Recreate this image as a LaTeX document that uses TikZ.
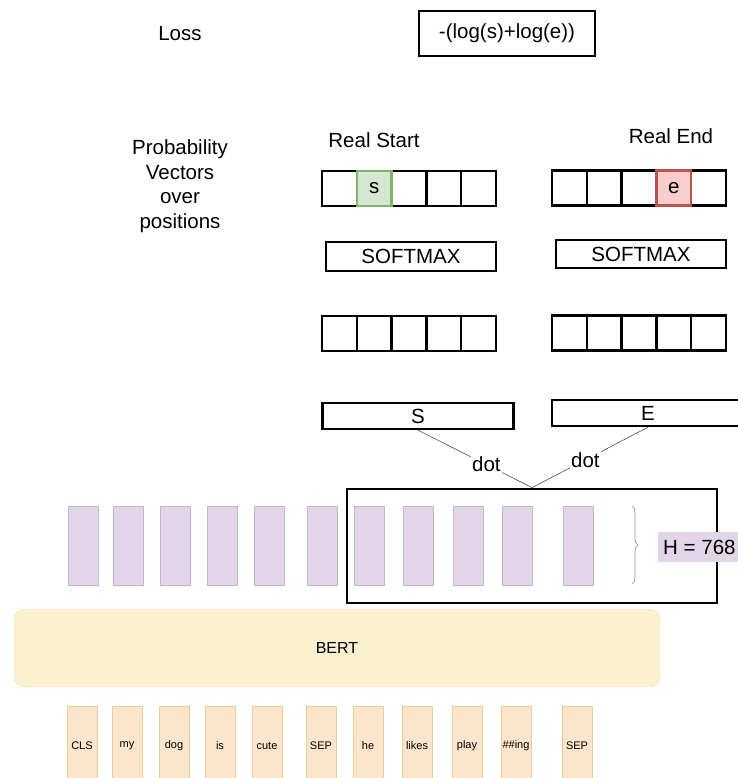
\documentclass[tikz,border=0pt]{standalone}
\usepackage{fontspec}
\setmainfont{Liberation Sans}
\usetikzlibrary{positioning, decorations.pathreplacing}

\definecolor{hidfill}{HTML}{E1D5E7}
\definecolor{hidline}{HTML}{C5B1D3}
\definecolor{tokfill}{HTML}{FBE6CD}
\definecolor{tokline}{HTML}{EDCD94}
\definecolor{bertfill}{HTML}{FBF0CF}
\definecolor{bertline}{HTML}{EEDDA8}
\definecolor{sfill}{HTML}{D5E8D4}
\definecolor{sline}{HTML}{82B366}
\definecolor{efill}{HTML}{F8CECC}
\definecolor{eline}{HTML}{B85450}

\tikzset{
    big/.style={font=\fontsize{20.5}{24}\selectfont},
    box/.style={rectangle, draw, line width=2.4pt, inner sep=0pt, big},
    cell/.style={box, minimum width=34.8pt, minimum height=35pt},
    hid/.style={rectangle, draw=hidline, fill=hidfill, minimum width=30pt, minimum height=79pt, inner sep=0pt},
    tok/.style={rectangle, draw=tokline, fill=tokfill, minimum width=30pt, minimum height=80pt, inner sep=0pt, font=\fontsize{11}{13}\selectfont},
    dotlink/.style={draw=black!70, line width=0.6pt},
}

\begin{document}
\begin{tikzpicture}[x=1pt, y=-1pt]
    \useasboundingbox (0,0) rectangle (737,778);

    % loss row
    \node[big] (loss) at (180,34) {Loss};
    \node[box, minimum width=176pt, minimum height=45pt] (lossbox) at (507,33.5) {-(log(s)+log(e))};

    \node[align=center, font=\fontsize{20.5}{24.5}\selectfont] (prob) at (180,186) {Probability\\Vectors\\over\\positions};
    \node[big] (realstart) at (374,140) {Real Start};
    \node[big] (realend) at (671,136) {Real End};

    % probability vectors
    \foreach \i in {1,...,5} {
        \node[cell] (ps\i) at ({304.6+34.8*\i},188.5) {};
        \node[cell] (pe\i) at ({534.6+34.8*\i},188) {};
    }
    \node[cell, draw=sline, fill=sfill] (sstar) at (ps2) {s};
    \node[cell, draw=eline, fill=efill] (estar) at (pe4) {e};

    \node[box, minimum width=170pt, minimum height=29pt] (smaxS) at (411,256.5) {SOFTMAX};
    \node[box, minimum width=170pt, minimum height=28pt] (smaxE) at (641,254) {SOFTMAX};

    % logits
    \foreach \i in {1,...,5} {
        \node[cell] (ls\i) at ({304.6+34.8*\i},333.5) {};
        \node[cell] (le\i) at ({534.6+34.8*\i},333) {};
    }

    % start / end vectors
    \node[box, minimum width=191pt, minimum height=26pt] (S) at (418,416) {S};
    \node[box, minimum width=192pt, minimum height=26pt] (E) at (648,413) {E};

    % hidden states of BERT
    \foreach \x [count=\i] in {83,128,175,222,269,322,369.5,418,468.5,517.5,578.5}
        \node[hid] (h\i) at (\x,546) {};
    \node[box, line width=2.8pt, minimum width=370pt, minimum height=114pt] (para) at (532,546) {};

    \draw[dotlink] (S.south) -- node[pos=0.6, fill=white, inner sep=1.5pt, big] {dot} (para.north);
    \draw[dotlink] (E.south) -- node[pos=0.54, fill=white, inner sep=1.5pt, big] {dot} (para.north);

    \draw[draw=black!45, line width=0.6pt, decorate, decoration={brace, amplitude=6pt}] (632,506) -- (632,584);
    \node[fill=hidfill, anchor=west, minimum height=30pt, inner xsep=5pt, big] (hsize) at (658,547) {H = 768};

    % BERT encoder and input tokens
    \node[rectangle, rounded corners=11pt, draw=bertline, fill=bertfill, minimum width=646pt, minimum height=78pt, font=\fontsize{16}{18}\selectfont] (bert) at (337,648) {BERT};
    \foreach \x/\w [count=\i] in {82/CLS,127/my,174/dog,220/is,267/cute,321/SEP,368/he,417/likes,467/play,516/\#\#ing,577/SEP}
        \node[tok] (t\i) at (\x,746) {\w};
\end{tikzpicture}
\end{document}
